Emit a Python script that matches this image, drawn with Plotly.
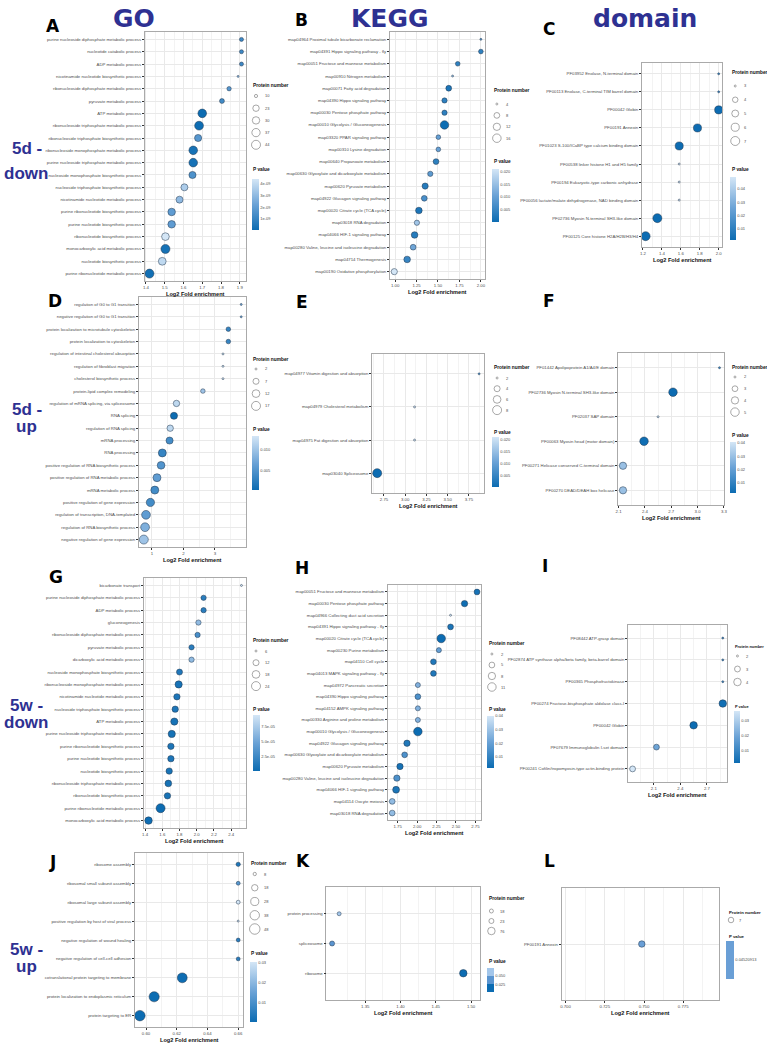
import numpy as np
import plotly.graph_objects as go

W, H = 767, 1051
FONT = "Liberation Sans"

# ---------------- DATA ----------------
# A: GO, 5d-down
A_terms = ["purine nucleoside diphosphate metabolic process", "nucleotide catabolic process", "ADP metabolic process",
           "nicotinamide nucleotide biosynthetic process", "ribonucleoside diphosphate metabolic process",
           "pyruvate metabolic process", "ATP metabolic process", "ribonucleoside triphosphate metabolic process",
           "ribonucleoside triphosphate biosynthetic process", "ribonucleoside monophosphate metabolic process",
           "purine nucleoside triphosphate metabolic process", "nucleoside monophosphate biosynthetic process",
           "nucleoside triphosphate biosynthetic process", "nicotinamide nucleotide metabolic process",
           "purine ribonucleotide biosynthetic process", "purine nucleotide biosynthetic process",
           "ribonucleotide biosynthetic process", "monocarboxylic acid metabolic process",
           "nucleotide biosynthetic process", "purine ribonucleotide metabolic process"]
A_fold = [1.909, 1.909, 1.909, 1.891, 1.843, 1.805, 1.700, 1.683, 1.678, 1.652, 1.652, 1.648, 1.605, 1.579,
          1.537, 1.537, 1.504, 1.504, 1.487, 1.419]
A_count = [12, 12, 12, 9, 13, 15, 40, 42, 28, 40, 40, 28, 27, 27, 31, 31, 32, 44, 33, 44]
A_p = [1.2e-9, 1.2e-9, 1.2e-9, 3.0e-9, 1.8e-9, 1.3e-9, 6e-11, 1e-10, 1.8e-9, 3e-10, 3e-10, 1.6e-9, 3.6e-9,
       3.0e-9, 2.0e-9, 2.0e-9, 4.43e-9, 3e-10, 4.0e-9, 2e-10]
A_xticks = [1.4, 1.5, 1.6, 1.7, 1.8, 1.9]
A_size_breaks = [10, 23, 30, 37, 44]
A_p_breaks = [1e-9, 2e-9, 3e-9, 4e-9]
A_p_labels = ["1e-09", "2e-09", "3e-09", "4e-09"]

# B: KEGG, 5d-down
B_terms = ["map04964 Proximal tubule bicarbonate reclamation", "map04391 Hippo signaling pathway - fly",
           "map00051 Fructose and mannose metabolism", "map00910 Nitrogen metabolism",
           "map00071 Fatty acid degradation", "map04390 Hippo signaling pathway",
           "map00030 Pentose phosphate pathway", "map00010 Glycolysis / Gluconeogenesis",
           "map03320 PPAR signaling pathway", "map00310 Lysine degradation", "map00640 Propanoate metabolism",
           "map00630 Glyoxylate and dicarboxylate metabolism", "map00620 Pyruvate metabolism",
           "map04922 Glucagon signaling pathway", "map00020 Citrate cycle (TCA cycle)",
           "map03018 RNA degradation", "map04066 HIF-1 signaling pathway",
           "map00280 Valine, leucine and isoleucine degradation", "map04714 Thermogenesis",
           "map00190 Oxidative phosphorylation"]
B_fold = [2.00, 2.00, 1.73, 1.67, 1.625, 1.576, 1.576, 1.576, 1.504, 1.504, 1.477, 1.41, 1.35, 1.34, 1.277,
          1.254, 1.227, 1.21, 1.14, 0.99]
B_count = [4, 6, 6, 4, 8, 7, 7, 16, 6, 6, 8, 7, 9, 8, 10, 7, 10, 8, 10, 9]
B_p = [0.008, 0.004, 0.004, 0.015, 0.002, 0.004, 0.004, 0.0002, 0.010, 0.010, 0.004, 0.009, 0.003, 0.007,
       0.002, 0.016, 0.003, 0.011, 0.005, 0.021]
B_xticks = [1.00, 1.25, 1.50, 1.75, 2.00]
B_size_breaks = [4, 8, 12, 16]
B_p_breaks = [0.005, 0.010, 0.015, 0.020]
B_p_labels = ["0.005", "0.010", "0.015", "0.020"]

# C: domain, 5d-down
C_terms = ["PF03952 Enolase, N-terminal domain", "PF00113 Enolase, C-terminal TIM barrel domain", "PF00042 Globin",
           "PF00191 Annexin", "PF01023 S-100/ICaBP type calcium binding domain",
           "PF00538 linker histone H1 and H5 family", "PF00194 Eukaryotic-type carbonic anhydrase",
           "PF00056 lactate/malate dehydrogenase, NAD binding domain", "PF02736 Myosin N-terminal SH3-like domain",
           "PF00125 Core histone H2A/H2B/H3/H4"]
C_fold = [2.0, 2.0, 2.0, 1.776, 1.583, 1.583, 1.583, 1.583, 1.352, 1.228]
C_count = [3, 3, 6, 6, 6, 3, 3, 3, 7, 7]
C_p = [0.012, 0.012, 0.002, 0.002, 0.002, 0.049, 0.049, 0.049, 0.0018, 0.0018]
C_xticks = [1.2, 1.4, 1.6, 1.8, 2.0]
C_size_breaks = [3, 4, 5, 6, 7]
C_p_breaks = [0.01, 0.02, 0.03, 0.04]
C_p_labels = ["0.01", "0.02", "0.03", "0.04"]

# D: GO, 5d-up
D_terms = ["regulation of G0 to G1 transition", "negative regulation of G0 to G1 transition",
           "protein localization to microtubule cytoskeleton", "protein localization to cytoskeleton",
           "regulation of intestinal cholesterol absorption", "regulation of fibroblast migration",
           "cholesterol biosynthetic process", "protein-lipid complex remodeling",
           "regulation of mRNA splicing, via spliceosome", "RNA splicing", "regulation of RNA splicing",
           "mRNA processing", "RNA processing", "positive regulation of RNA biosynthetic process",
           "positive regulation of RNA metabolic process", "mRNA metabolic process",
           "positive regulation of gene expression", "regulation of transcription, DNA-templated",
           "regulation of RNA biosynthetic process", "negative regulation of gene expression"]
D_fold = [3.84, 3.84, 3.43, 3.43, 3.26, 3.26, 3.26, 2.62, 1.78, 1.70, 1.58, 1.56, 1.33, 1.29, 1.16, 1.09,
          0.95, 0.81, 0.78, 0.74]
D_count = [2, 2, 4, 4, 2, 2, 2, 4, 8, 10, 8, 10, 13, 12, 13, 13, 14, 16, 16, 17]
D_p = [0.007, 0.007, 0.003, 0.003, 0.0134, 0.0134, 0.0134, 0.010, 0.012, 0.0001, 0.012, 0.004, 0.003, 0.005,
       0.006, 0.004, 0.004, 0.006, 0.008, 0.010]
D_xticks = [1, 2, 3, 4]
D_size_breaks = [2, 7, 12, 17]
D_p_breaks = [0.005, 0.010]
D_p_labels = ["0.005", "0.010"]

# E: KEGG, 5d-up
E_terms = ["map04977 Vitamin digestion and absorption", "map04979 Cholesterol metabolism",
           "map04975 Fat digestion and absorption", "map03040 Spliceosome"]
E_fold = [3.87, 3.11, 3.11, 2.67]
E_count = [2, 2, 2, 8]
E_p = [0.008, 0.021, 0.021, 0.0002]
E_xticks = [2.75, 3.00, 3.25, 3.50, 3.75]
E_size_breaks = [2, 4, 6, 8]
E_p_breaks = [0.005, 0.010, 0.015, 0.020]
E_p_labels = ["0.005", "0.010", "0.015", "0.020"]

# F: domain, 5d-up
F_terms = ["PF01442 Apolipoprotein A1/A4/E domain", "PF02736 Myosin N-terminal SH3-like domain",
           "PF02037 SAP domain", "PF00063 Myosin head (motor domain)",
           "PF00271 Helicase conserved C-terminal domain", "PF00270 DEAD/DEAH box helicase"]
F_fold = [3.25, 2.72, 2.55, 2.39, 2.15, 2.15]
F_count = [2, 5, 2, 5, 4, 4]
F_p = [0.012, 0.0024, 0.0407, 0.003, 0.030, 0.030]
F_xticks = [2.1, 2.4, 2.7, 3.0, 3.3]
F_size_breaks = [2, 3, 4, 5]
F_p_breaks = [0.01, 0.02, 0.03, 0.04]
F_p_labels = ["0.01", "0.02", "0.03", "0.04"]

# G: GO, 5w-down
G_terms = ["bicarbonate transport", "purine nucleoside diphosphate metabolic process", "ADP metabolic process",
           "gluconeogenesis", "ribonucleoside diphosphate metabolic process", "pyruvate metabolic process",
           "dicarboxylic acid metabolic process", "nucleoside monophosphate biosynthetic process",
           "ribonucleoside monophosphate metabolic process", "nicotinamide nucleotide metabolic process",
           "nucleoside triphosphate biosynthetic process", "ATP metabolic process",
           "purine nucleoside triphosphate metabolic process", "purine ribonucleotide biosynthetic process",
           "purine nucleotide biosynthetic process", "nucleotide biosynthetic process",
           "ribonucleoside triphosphate metabolic process", "ribonucleotide biosynthetic process",
           "purine ribonucleotide metabolic process", "monocarboxylic acid metabolic process"]
G_fold = [2.52, 2.08, 2.08, 2.02, 2.01, 1.94, 1.94, 1.80, 1.79, 1.77, 1.75, 1.74, 1.71, 1.70, 1.70, 1.68,
          1.67, 1.66, 1.58, 1.44]
G_count = [6, 10, 10, 10, 10, 10, 10, 12, 16, 13, 13, 16, 16, 13, 13, 13, 14, 13, 24, 17]
G_p = [9.5e-5, 1.5e-5, 1.5e-5, 6.5e-5, 3e-5, 1.5e-5, 6.5e-5, 1e-5, 5e-6, 8e-6, 8e-6, 5e-6, 5e-6, 8e-6,
       8e-6, 6e-6, 5e-6, 6e-6, 1e-7, 1e-6]
G_xticks = [1.4, 1.6, 1.8, 2.0, 2.2, 2.4]
G_size_breaks = [6, 12, 18, 24]
G_p_breaks = [2.5e-5, 5.0e-5, 7.5e-5]
G_p_labels = ["2.5e-05", "5.0e-05", "7.5e-05"]

# H: KEGG, 5w-down
H_terms = ["map00051 Fructose and mannose metabolism", "map00030 Pentose phosphate pathway",
           "map04966 Collecting duct acid secretion", "map04391 Hippo signaling pathway - fly",
           "map00020 Citrate cycle (TCA cycle)", "map00230 Purine metabolism", "map04110 Cell cycle",
           "map04013 MAPK signaling pathway - fly", "map04972 Pancreatic secretion",
           "map04390 Hippo signaling pathway", "map04152 AMPK signaling pathway",
           "map00330 Arginine and proline metabolism", "map00010 Glycolysis / Gluconeogenesis",
           "map04922 Glucagon signaling pathway", "map00630 Glyoxylate and dicarboxylate metabolism",
           "map00620 Pyruvate metabolism", "map00280 Valine, leucine and isoleucine degradation",
           "map04066 HIF-1 signaling pathway", "map04114 Oocyte meiosis", "map03018 RNA degradation"]
H_fold = [2.77, 2.61, 2.43, 2.43, 2.31, 2.28, 2.21, 2.21, 2.01, 2.01, 2.01, 2.01, 2.01, 1.87, 1.84, 1.78,
          1.74, 1.73, 1.68, 1.68]
H_count = [5, 6, 2, 5, 11, 4, 5, 5, 4, 5, 4, 4, 11, 6, 5, 6, 6, 7, 5, 5]
H_p = [0.004, 0.0025, 0.040, 0.005, 0.0019, 0.020, 0.006, 0.006, 0.025, 0.015, 0.025, 0.025, 0.002, 0.006,
       0.015, 0.004, 0.015, 0.005, 0.028, 0.028]
H_xticks = [1.75, 2.00, 2.25, 2.50, 2.75]
H_size_breaks = [2, 5, 8, 11]
H_p_breaks = [0.01, 0.02, 0.03, 0.04]
H_p_labels = ["0.01", "0.02", "0.03", "0.04"]

# I: domain, 5w-down
I_terms = ["PF08442 ATP-grasp domain", "PF02874 ATP synthase alpha/beta family, beta-barrel domain",
           "PF00365 Phosphofructokinase", "PF00274 Fructose-bisphosphate aldolase class-I", "PF00042 Globin",
           "PF07679 Immunoglobulin I-set domain", "PF00241 Cofilin/tropomyosin-type actin-binding protein"]
I_fold = [2.88, 2.88, 2.88, 2.88, 2.55, 2.13, 1.86]
I_count = [2, 2, 2, 4, 4, 3, 3]
I_p = [0.012, 0.012, 0.012, 0.003, 0.002, 0.020, 0.0367]
I_xticks = [2.1, 2.4, 2.7]
I_size_breaks = [2, 3, 4]
I_p_breaks = [0.01, 0.02, 0.03]
I_p_labels = ["0.01", "0.02", "0.03"]

# J: GO, 5w-up
J_terms = ["ribosome assembly", "ribosomal small subunit assembly", "ribosomal large subunit assembly",
           "positive regulation by host of viral process", "negative regulation of wound healing",
           "negative regulation of cell-cell adhesion", "cotranslational protein targeting to membrane",
           "protein localization to endoplasmic reticulum", "protein targeting to ER"]
J_fold = [0.66, 0.66, 0.66, 0.66, 0.66, 0.66, 0.6236, 0.6053, 0.596]
J_count = [10, 9, 9, 7, 9, 9, 42, 45, 48]
J_p = [0.003, 0.012, 0.0305, 0.0305, 0.005, 0.005, 0.0005, 0.0003, 0.0001]
J_xticks = [0.60, 0.62, 0.64, 0.66]
J_size_breaks = [8, 18, 28, 38, 48]
J_p_breaks = [0.01, 0.02, 0.03]
J_p_labels = ["0.01", "0.02", "0.03"]

# K: KEGG, 5w-up
K_terms = ["protein processing", "spliceosome", "ribosome"]
K_fold = [1.313, 1.303, 1.489]
K_count = [18, 23, 76]
K_p = [0.075, 0.045, 0.0005]
K_xticks = [1.35, 1.40, 1.45, 1.50]
K_size_breaks = [18, 23, 76]
K_p_breaks = [0.025, 0.050]
K_p_labels = ["0.025", "0.050"]

# L: domain, 5w-up
L_terms = ["PF00191 Annexin"]
L_fold = [0.7486]
L_count = [7]
L_p = [0.04520913]
L_xticks = [0.700, 0.725, 0.750, 0.775]
L_size_breaks = [7]
L_p_breaks = [0.04520913]
L_p_labels = ["0.04520913"]

# ---------------- STYLE / LAYOUT ----------------
GRAD = [[0.0, "#0c6cb2"], [0.5, "#6aa2d6"], [1.0, "#d4e6f6"]]
K_SCALE = [[0.0, "#0c6cb2"], [0.3333, "#0c6cb2"], [0.3333, "#5b95d0"], [0.6667, "#5b95d0"],
           [0.6667, "#a3c6ea"], [1.0, "#a3c6ea"]]
L_SCALE = [[0.0, "#6a9fd6"], [1.0, "#6a9fd6"]]

panels = [
    dict(t=A_terms, f=A_fold, c=A_count, p=A_p, xt=A_xticks, fmt="{:.1f}", sb=A_size_breaks, pb=A_p_breaks,
         pl=A_p_labels, box=(143, 32, 245, 281), d=(2, 9), leg=(250, 86, 96, 12.2, 169), cb=(251, 179, 51, 7)),
    dict(t=B_terms, f=B_fold, c=B_count, p=B_p, xt=B_xticks, fmt="{:.2f}", sb=B_size_breaks, pb=B_p_breaks,
         pl=B_p_labels, box=(390, 32, 486, 279), d=(2, 8.5), leg=(493, 91, 104, 11.4, 162), cb=(493, 169, 53, 7)),
    dict(t=C_terms, f=C_fold, c=C_count, p=C_p, xt=C_xticks, fmt="{:.1f}", sb=C_size_breaks, pb=C_p_breaks,
         pl=C_p_labels, box=(644, 63, 725, 247), d=(2, 9), leg=(733, 72, 86, 13.75, 170), cb=(733, 177, 63, 6)),
    dict(t=D_terms, f=D_fold, c=D_count, p=D_p, xt=D_xticks, fmt="{:.0f}", sb=D_size_breaks, pb=D_p_breaks,
         pl=D_p_labels, box=(137, 297, 245, 547), d=(2, 9), leg=(250, 359, 369, 12.3, 429), cb=(251, 436, 54, 7)),
    dict(t=E_terms, f=E_fold, c=E_count, p=E_p, xt=E_xticks, fmt="{:.2f}", sb=E_size_breaks, pb=E_p_breaks,
         pl=E_p_labels, box=(372, 354, 485, 493), d=(2, 9), leg=(493, 367, 378, 10.7, 432), cb=(493, 437, 50, 7)),
    dict(t=F_terms, f=F_fold, c=F_count, p=F_p, xt=F_xticks, fmt="{:.1f}", sb=F_size_breaks, pb=F_p_breaks,
         pl=F_p_labels, box=(620, 353, 727, 505), d=(2, 8.5), leg=(733, 367, 377, 11.7, 435), cb=(733, 442, 51, 6)),
    dict(t=G_terms, f=G_fold, c=G_count, p=G_p, xt=G_xticks, fmt="{:.1f}", sb=G_size_breaks, pb=G_p_breaks,
         pl=G_p_labels, box=(142, 578, 245, 828), d=(2, 9), leg=(250, 640, 651, 11.7, 709), cb=(252, 715, 56, 7)),
    dict(t=H_terms, f=H_fold, c=H_count, p=H_p, xt=H_xticks, fmt="{:.2f}", sb=H_size_breaks, pb=H_p_breaks,
         pl=H_p_labels, box=(388, 585, 482, 820), d=(2, 8.5), leg=(488, 643, 654, 11, 709), cb=(488, 716, 52, 7)),
    dict(t=I_terms, f=I_fold, c=I_count, p=I_p, xt=I_xticks, fmt="{:.1f}", sb=I_size_breaks, pb=I_p_breaks,
         pl=I_p_labels, box=(630, 625, 730, 782), d=(2, 7.5), leg=(736, 646, 656, 13, 706), cb=(737, 711, 52, 6),
         lf=3.9),
    dict(t=J_terms, f=J_fold, c=J_count, p=J_p, xt=J_xticks, fmt="{:.2f}", sb=J_size_breaks, pb=J_p_breaks,
         pl=J_p_labels, box=(133, 853, 242, 1027), d=(2, 10.5), leg=(248, 863, 874, 13.75, 953), cb=(249, 962, 60, 7)),
    dict(t=K_terms, f=K_fold, c=K_count, p=K_p, xt=K_xticks, fmt="{:.2f}", sb=K_size_breaks, pb=K_p_breaks,
         pl=K_p_labels, box=(326, 887, 481, 1000), d=(4, 7.5), leg=(488, 898, 911, 10, 961), cb=(488, 968, 24, 7),
         xr=(1.295, 1.513), yexp=0.9, cs=K_SCALE),
    dict(t=L_terms, f=L_fold, c=L_count, p=L_p, xt=L_xticks, fmt="{:.3f}", sb=L_size_breaks, pb=L_p_breaks,
         pl=L_p_labels, box=(563, 888, 722, 1000), d=(6.5, 6.5), leg=(730, 912, 920, 10, 936), cb=(729, 941, 38, 8),
         xr=(0.6975, 0.798), cs=L_SCALE, single=True, lf=4.3),
]

letters = [("A", 50, 26), ("B", 301, 20), ("C", 550, 29), ("D", 52, 301), ("E", 301, 302), ("F", 550, 301),
           ("G", 53, 577), ("H", 301, 568), ("I", 546, 566), ("J", 50, 862), ("K", 302, 861), ("L", 551, 861)]
headers = [("GO", 132, 2), ("KEGG", 390, 2), ("domain", 647, 2)]
rowlabels = [("5d -", 24, 148), ("down", 23, 173), ("5d -", 24, 409), ("up", 24, 426),
             ("5w -", 24, 705), ("down", 23, 722), ("5w -", 24, 949), ("up", 24, 966)]
BLUE = "#2e3192"


def px(x):
    return x / W


def py(y):
    return 1 - y / H


def diam(v, vmin, vmax, dmin, dmax):
    v = np.asarray(v, dtype=float)
    if vmax <= vmin:
        return np.full(v.shape, dmax)
    t = np.clip((v - vmin) / (vmax - vmin), 0, 1)
    return dmin + (dmax - dmin) * np.sqrt(t)


def note(text, x, y, size, color, family=FONT, xanchor="left", yanchor="middle"):
    return dict(text=text, x=px(x), y=py(y), xref="paper", yref="paper", xanchor=xanchor, yanchor=yanchor,
                showarrow=False, font=dict(size=size, color=color, family=family))


fig = go.Figure()
layout = {}
annotations = []
tickfont = dict(size=4.3, color="#4d4d4d", family=FONT)

for i, pn in enumerate(panels, start=1):
    sfx = "" if i == 1 else str(i)
    x0, y0, x1, y1 = pn["box"]
    f = pn["f"]
    if "xr" in pn:
        xr = list(pn["xr"])
    else:
        lo, hi = min(f), max(f)
        sp = hi - lo
        xr = [lo - 0.05 * sp, hi + 0.05 * sp]
    n = len(pn["t"])
    ye = pn.get("yexp", 0.6)
    xt = pn["xt"]
    step = xt[1] - xt[0]
    mids = [xt[0] - step / 2] + [v + step / 2 for v in xt]
    layout["xaxis" + sfx] = dict(
        domain=[px(x0), px(x1)], anchor="y" + sfx, range=xr, tickmode="array", tickvals=xt,
        ticktext=[pn["fmt"].format(v) for v in xt], ticks="outside", ticklen=2, tickwidth=0.5, tickcolor="#333333",
        tickfont=tickfont, showgrid=True, gridcolor="#e9e9e9", gridwidth=0.6,
        minor=dict(tickmode="array", tickvals=mids, showgrid=True, gridcolor="#f3f3f3", gridwidth=0.4, ticks=""),
        showline=True, mirror=True, linecolor="#aaaaaa", linewidth=0.8, zeroline=False, fixedrange=True)
    layout["yaxis" + sfx] = dict(
        domain=[py(y1), py(y0)], anchor="x" + sfx, type="category", categoryorder="array",
        categoryarray=pn["t"], range=[n - 1 + ye, -ye], ticks="outside", ticklen=2, tickwidth=0.5,
        tickcolor="#333333", tickfont=tickfont, showgrid=True, gridcolor="#e9e9e9", gridwidth=0.6,
        showline=True, mirror=True, linecolor="#aaaaaa", linewidth=0.8, zeroline=False, fixedrange=True)

    cmin, cmax = min(pn["p"]), max(pn["p"])
    if pn.get("single"):
        cmin, cmax = cmin * 0.999, cmax * 1.001
    cbx, cbt, cbl, cbw = pn["cb"]
    layout["coloraxis" + sfx] = dict(
        cmin=cmin, cmax=cmax, colorscale=pn.get("cs", GRAD),
        colorbar=dict(x=px(cbx), xanchor="left", y=py(cbt), yanchor="top", len=cbl, lenmode="pixels",
                      thickness=cbw, thicknessmode="pixels", xpad=0, ypad=0, outlinewidth=0, ticks="",
                      tickmode="array", tickvals=pn["pb"], ticktext=pn["pl"],
                      tickfont=dict(size=4, color="#4d4d4d", family=FONT)))

    cmn, cmx = min(pn["c"]), max(pn["c"])
    dmin, dmax = pn["d"]
    fig.add_trace(go.Scatter(
        x=f, y=pn["t"], mode="markers", xaxis="x" + sfx, yaxis="y" + sfx, showlegend=False,
        marker=dict(size=diam(pn["c"], cmn, cmx, dmin, dmax), color=pn["p"], coloraxis="coloraxis" + sfx,
                    line=dict(width=0.5, color="#23364d"), opacity=1),
        cliponaxis=False, hoverinfo="skip"))

    # size legend
    tx, ty, e0, est, pvy = pn["leg"]
    sb = pn["sb"]
    ld = diam(sb, cmn, cmx, dmin, dmax)
    if pn.get("single"):
        ld = ld * 0.85
    cx = tx + dmax / 2 + 0.5
    lx = tx + dmax + 3
    ys = [e0 + k * est for k in range(len(sb))]
    fig.add_trace(go.Scatter(
        x=[cx] * len(sb), y=ys, mode="markers", xaxis="x13", yaxis="y13", showlegend=False, hoverinfo="skip",
        marker=dict(size=ld, color="white", line=dict(width=0.6, color="#333333"))))
    lf = pn.get("lf", 4.8)
    annotations.append(note("<b>Protein number</b>", tx, ty, lf, "#111111"))
    for yv, lab in zip(ys, sb):
        annotations.append(note(str(lab), lx, yv, 4, "#4d4d4d"))
    annotations.append(note("<b>P value</b>", tx, pvy, lf, "#111111"))
    annotations.append(note("<b>Log2 Fold enrichment</b>", (x0 + x1) / 2, y1 + 13, 5.6, "#111111",
                            xanchor="center"))

layout["xaxis13"] = dict(domain=[0, 1], range=[0, W], visible=False, fixedrange=True, anchor="y13")
layout["yaxis13"] = dict(domain=[0, 1], range=[H, 0], visible=False, fixedrange=True, anchor="x13")

for t, x, y in letters:
    annotations.append(note("<b>%s</b>" % t, x, y, 17, "black", family="DejaVu Sans", xanchor="center"))
for t, x, y in headers:
    annotations.append(note("<b>%s</b>" % t, x, y, 25, BLUE, family="DejaVu Sans", xanchor="center",
                            yanchor="top"))
for t, x, y in rowlabels:
    annotations.append(note("<b>%s</b>" % t, x, y, 17, BLUE, xanchor="center"))

fig.update_layout(width=W, height=H, autosize=False, margin=dict(l=0, r=0, t=0, b=0),
                  paper_bgcolor="white", plot_bgcolor="rgba(0,0,0,0)", font=dict(family=FONT),
                  annotations=annotations, showlegend=False, **layout)
fig.write_html("out.html")
